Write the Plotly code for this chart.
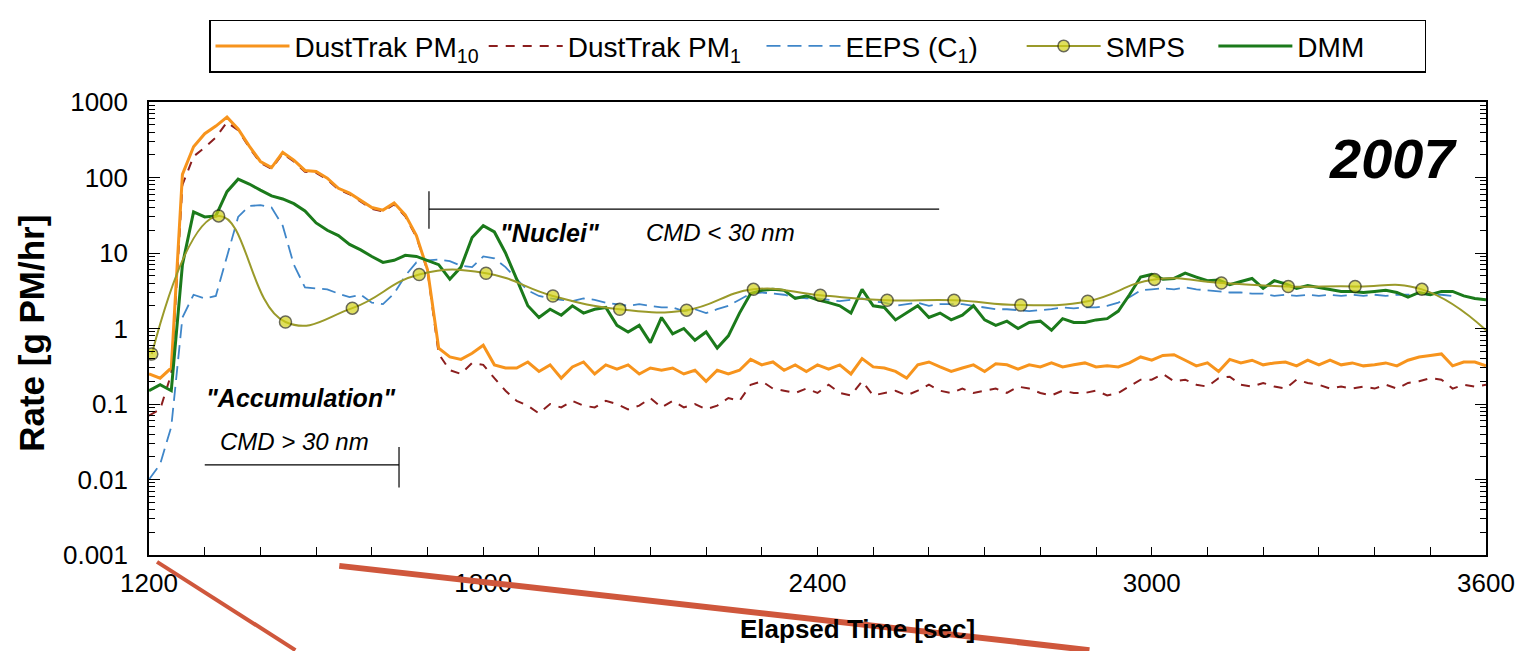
import plotly.graph_objects as go

# ---------------- data ----------------
time_s = list(range(1200, 3601, 20))

pm10 = [
    0.25, 0.22, 0.30, 110, 255, 380, 480, 630, 440, 260,
    163, 135, 215, 170, 124, 120, 98, 72, 62, 50,
    40, 37, 46, 32, 17, 6, 0.55, 0.42, 0.39, 0.47,
    0.60, 0.33, 0.30, 0.30, 0.36, 0.27, 0.33, 0.22, 0.31, 0.36,
    0.25, 0.33, 0.29, 0.33, 0.25, 0.30, 0.28, 0.30, 0.25, 0.28,
    0.20, 0.28, 0.25, 0.28, 0.39, 0.33, 0.36, 0.28, 0.33, 0.27,
    0.33, 0.29, 0.33, 0.25, 0.40, 0.31, 0.30, 0.27, 0.22, 0.33,
    0.36, 0.31, 0.27, 0.30, 0.33, 0.27, 0.34, 0.33, 0.29, 0.33,
    0.31, 0.35, 0.31, 0.33, 0.35, 0.31, 0.32, 0.31, 0.35, 0.42,
    0.38, 0.44, 0.45, 0.38, 0.32, 0.35, 0.27, 0.39, 0.35, 0.38,
    0.33, 0.35, 0.36, 0.32, 0.38, 0.33, 0.38, 0.33, 0.35, 0.32,
    0.33, 0.35, 0.32, 0.38, 0.42, 0.44, 0.46, 0.32, 0.36, 0.36,
    0.32,
]

pm1 = [
    0.07, 0.085, 0.25, 80, 190, 250, 340, 540, 422, 250,
    156, 130, 206, 163, 119, 115, 94, 69, 60, 48,
    38.5, 35.5, 44, 30.7, 16.3, 5.8, 0.46, 0.28, 0.25, 0.35,
    0.33, 0.22, 0.15, 0.11, 0.095, 0.075, 0.10, 0.09, 0.11, 0.095,
    0.09, 0.11, 0.10, 0.085, 0.095, 0.12, 0.09, 0.11, 0.09, 0.10,
    0.085, 0.095, 0.12, 0.11, 0.18, 0.20, 0.16, 0.15, 0.14, 0.16,
    0.14, 0.18, 0.14, 0.13, 0.20, 0.13, 0.14, 0.15, 0.13, 0.15,
    0.18, 0.15, 0.14, 0.16, 0.14, 0.15, 0.16, 0.14, 0.17, 0.16,
    0.14, 0.13, 0.15, 0.14, 0.14, 0.15, 0.13, 0.14, 0.17, 0.21,
    0.21, 0.25, 0.20, 0.21, 0.18, 0.17, 0.22, 0.23, 0.18, 0.17,
    0.19, 0.17, 0.16, 0.21, 0.19, 0.18, 0.16, 0.17, 0.16, 0.17,
    0.16, 0.18, 0.16, 0.19, 0.20, 0.22, 0.21, 0.16, 0.18, 0.17,
    0.18,
]

eeps = [
    0.010, 0.016, 0.05, 1.4, 2.8, 2.5, 2.7, 9, 30, 42,
    43, 40, 23, 7, 3.5, 3.4, 3.3, 2.9, 2.6, 2.8,
    2.2, 2.1, 2.9, 5.0, 7.5, 8.0, 8.2, 7.8, 6.8, 6.5,
    9.0, 8.5, 6.5, 4.5, 3.2, 2.7, 2.5, 2.4, 2.3, 2.5,
    2.4, 2.2, 2.1, 2.0, 2.1, 2.0, 1.9, 1.9, 1.7, 1.8,
    1.6, 1.8, 2.0, 2.4, 2.9, 3.0, 2.9, 2.8, 2.6, 2.5,
    2.5, 2.4, 2.3, 2.4, 2.5, 2.3, 2.2, 2.0, 2.1, 2.2,
    2.0, 2.1, 2.1, 2.1, 2.0, 1.9, 1.8, 1.8, 1.75, 1.7,
    1.75, 1.8, 1.9, 1.85, 1.9, 1.9, 2.0, 2.2, 2.6, 3.2,
    3.3, 3.4, 3.3, 3.5, 3.3, 3.2, 3.1, 3.0, 3.0, 2.9,
    2.9, 2.7, 2.8, 2.7, 2.8, 2.7, 2.8, 2.7, 2.8, 2.7,
    2.8, 2.7, 2.8, 2.8, 2.9, 2.8, 2.8, 2.7, None, None,
    None,
]

dmm = [
    0.15, 0.18, 0.15, 7, 35, 30, 31, 65, 95, 82,
    68, 57, 52, 45, 36, 25, 20, 17, 13, 11,
    9, 7.5, 8, 9.3, 9, 8, 7, 4.5, 6.5, 16,
    23, 19, 10, 4.5, 2.0, 1.4, 1.8, 1.5, 2.0, 1.6,
    1.8, 1.9, 1.1, 0.9, 1.1, 0.65, 1.4, 0.85, 1.0, 0.7,
    0.9, 0.55, 0.8, 1.6, 2.9, 3.2, 3.3, 3.2, 2.5, 2.7,
    2.4, 2.2, 2.0, 1.6, 3.3, 2.0, 1.9, 1.3, 1.6, 2.0,
    1.4, 1.6, 1.3, 1.5, 2.0, 1.3, 1.1, 1.25, 1.0, 1.2,
    1.25, 0.95, 1.35, 1.2, 1.2, 1.3, 1.35, 1.7, 2.8, 4.8,
    5.2, 4.5, 4.6, 5.4, 4.8, 4.3, 4.4, 3.8, 4.2, 4.6,
    3.4, 4.3, 3.9, 3.4, 3.7, 3.5, 3.3, 3.1, 3.1, 3.0,
    3.1, 3.2, 3.0, 2.6, 3.0, 2.8, 3.1, 3.1, 2.7, 2.5,
    2.4,
]

smps_time = [1205, 1325, 1445, 1565, 1685, 1805, 1925, 2045, 2165, 2285,
             2405, 2525, 2645, 2765, 2885, 3005, 3125, 3245, 3365, 3485, 3600]
smps = [0.46, 31, 1.22, 1.86, 5.2, 5.4, 2.7, 1.8, 1.75, 3.3,
        2.75, 2.37, 2.37, 2.04, 2.3, 4.47, 4.0, 3.6, 3.6, 3.3, 0.95]
smps_marker_size = [12] * 20 + [0]

x_tick_vals = [1200, 1800, 2400, 3000, 3600]
y_tick_vals = [0.001, 0.01, 0.1, 1, 10, 100, 1000]
y_tick_text = ["0.001", "0.01", "0.1", "1", "10", "100", "1000"]
y_minor_vals = [k * 10.0 ** e for e in range(-3, 3) for k in range(2, 10)]

FONT = "Liberation Sans, Arial, sans-serif"
NB = "\u00a0"

# ---------------- figure ----------------
fig = go.Figure()

fig.add_trace(go.Scatter(
    x=time_s, y=pm1, name="DustTrak PM<sub>1</sub>" + NB * 2, mode="lines",
    line=dict(color="#8B1E1E", width=2, dash="9px,8px"), legendrank=2))
fig.add_trace(go.Scatter(
    x=time_s, y=eeps, name="EEPS (C<sub>1</sub>)" + NB * 5, mode="lines",
    line=dict(color="#3F86C9", width=1.8, dash="14px,7px"), legendrank=3,
    connectgaps=False))
fig.add_trace(go.Scatter(
    x=time_s, y=pm10, name="DustTrak PM<sub>10</sub>", mode="lines",
    line=dict(color="#F7941D", width=3), legendrank=1))
fig.add_trace(go.Scatter(
    x=time_s, y=dmm, name="DMM" + NB * 7, mode="lines",
    line=dict(color="#1B7A1B", width=3), legendrank=5))
fig.add_trace(go.Scatter(
    x=smps_time, y=smps, name="SMPS" + NB * 3, mode="lines+markers",
    line=dict(color="#9A9A2A", width=2, shape="spline", smoothing=1.3),
    marker=dict(size=smps_marker_size, color="#D2D219",
                line=dict(color="#2A2A10", width=1.5)),
    legendrank=4))

fig.update_layout(
    width=1519, height=643,
    margin=dict(l=141, r=36, t=90, b=96),
    paper_bgcolor="white", plot_bgcolor="white",
    font=dict(family=FONT, color="black", size=24),
    showlegend=True,
    legend=dict(
        orientation="h", xref="paper", x=0.5, xanchor="center",
        yref="paper", y=1.1816, yanchor="top",
        bordercolor="black", borderwidth=1.5, bgcolor="white",
        font=dict(size=28, family=FONT), itemwidth=74,
    ),
    xaxis=dict(
        range=[1200, 3600], tickvals=x_tick_vals,
        ticks="inside", ticklen=8, tickwidth=1.2, tickcolor="black",
        minor=dict(dtick=100, ticks="inside", ticklen=8, tickwidth=1.2,
                   tickcolor="black", showgrid=False),
        showline=True, linecolor="black", linewidth=1.5, mirror=True,
        showgrid=False, zeroline=False,
        tickfont=dict(size=26, family=FONT), ticklabelstandoff=4,
    ),
    yaxis=dict(
        type="log", range=[-3, 3], tickvals=y_tick_vals, ticktext=y_tick_text,
        ticks="inside", ticklen=11, tickwidth=1.2, tickcolor="black",
        minor=dict(tickvals=y_minor_vals, ticks="inside", ticklen=6,
                   tickwidth=1.2, tickcolor="black", showgrid=False),
        showline=True, linecolor="black", linewidth=1.5, mirror="allticks",
        showgrid=False, zeroline=False,
        tickfont=dict(size=26, family=FONT), ticklabelstandoff=14,
    ),
)


def label(text, x, y, size, angle=0):
    fig.add_annotation(text=text, xref="paper", yref="paper", x=x, y=y,
                       xanchor="center", yanchor="middle", textangle=angle,
                       showarrow=False, font=dict(size=size, family=FONT))


# axis titles
label("<b>Rate [g PM/hr]</b>", -0.088, 0.489, 35, angle=-90)
label("<b>Elapsed Time [sec]</b>", 0.53, -0.164, 26)

# in-plot labels
label("<b><i>2007</i></b>", 0.9307, 0.875, 56)
label('<b><i>"Accumulation"</i></b>', 0.114, 0.3457, 25)
label("<i>CMD &gt; 30 nm</i>", 0.1088, 0.2516, 24)
label('<b><i>"Nuclei"</i></b>', 0.2996, 0.711, 25)
label("<i>CMD &lt; 30 nm</i>", 0.4277, 0.711, 24)

# bracket lines
bracket = dict(color="black", width=1.2)
fig.add_shape(type="line", xref="paper", yref="paper",
              x0=0.0417, x1=0.187, y0=0.199, y1=0.199, line=bracket)
fig.add_shape(type="line", xref="paper", yref="paper",
              x0=0.187, x1=0.187, y0=0.2385, y1=0.149, line=bracket)
fig.add_shape(type="line", xref="paper", yref="paper",
              x0=0.2094, x1=0.591, y0=0.7637, y1=0.7637, line=bracket)
fig.add_shape(type="line", xref="paper", yref="paper",
              x0=0.2094, x1=0.2094, y0=0.803, y1=0.72, line=bracket)

# red overlay strokes seen on the reference image
fig.add_shape(type="line", xref="paper", yref="paper", layer="above",
              x0=0.006, y0=-0.0153, x1=0.1095, y1=-0.21,
              line=dict(color="#CF573C", width=4))
fig.add_shape(type="line", xref="paper", yref="paper", layer="above",
              x0=0.1423, y0=-0.024, x1=0.7034, y1=-0.21,
              line=dict(color="#CF573C", width=6))

fig.write_html("out.html")
